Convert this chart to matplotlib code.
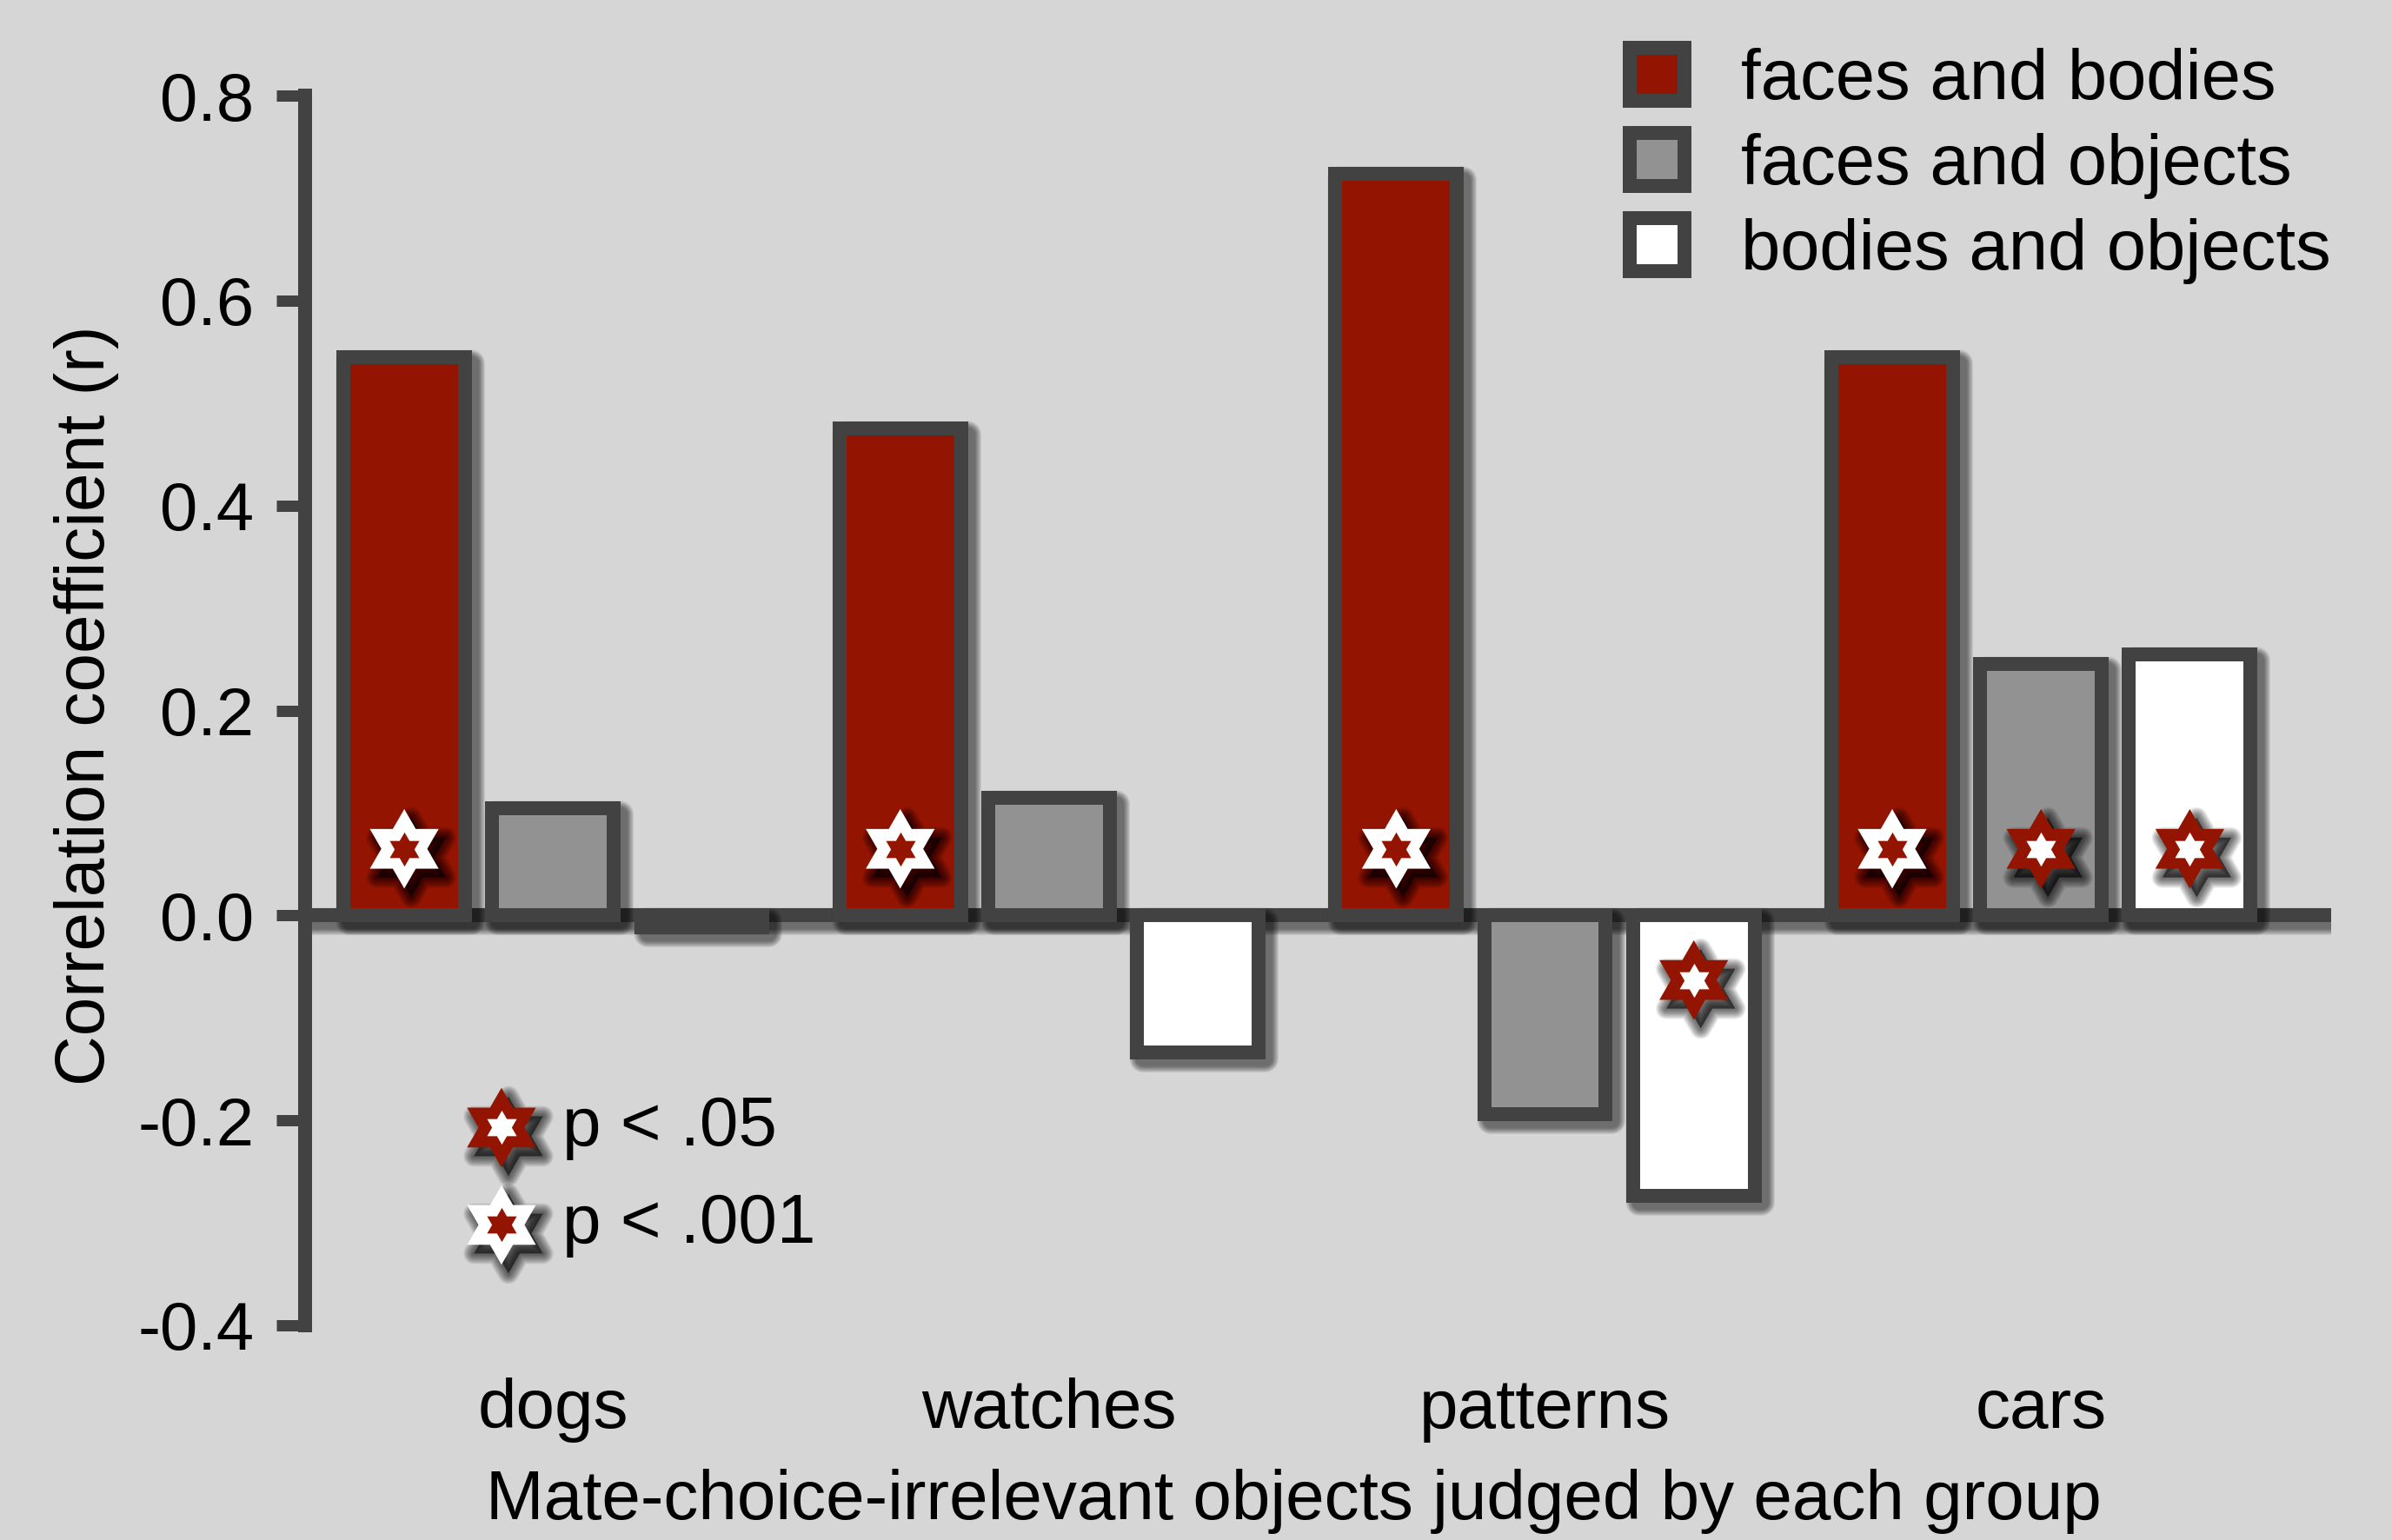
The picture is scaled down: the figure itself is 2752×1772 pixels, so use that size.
import matplotlib
matplotlib.use("Agg")
import matplotlib.pyplot as plt
import matplotlib.patheffects as pe
from matplotlib.path import Path
from matplotlib.patches import Patch
import numpy as np

# ---------------- data ----------------
categories = ["dogs", "watches", "patterns", "cars"]
series_names = ["faces and bodies", "faces and objects", "bodies and objects"]
faces_bodies = [0.545, 0.475, 0.724, 0.545]
faces_objects = [0.105, 0.115, -0.194, 0.245]
bodies_objects = [-0.012, -0.134, -0.274, 0.255]
# significance per bar: "001" -> p < .001, "05" -> p < .05, None -> n.s.
sig_faces_bodies = ["001", "001", "001", "001"]
sig_faces_objects = [None, None, None, "05"]
sig_bodies_objects = [None, None, "05", "05"]
yticks = [-0.4, -0.2, 0.0, 0.2, 0.4, 0.6, 0.8]
sig_labels = ["p < .05", "p < .001"]

# ---------------- style ----------------
BG = "#d6d6d6"
RED = "#931400"
GRAY = "#929292"
WHITE = "#ffffff"
EDGE = "#424242"
FONT = "Liberation Sans"
FS = 28
FS_LAB = 28.8
FS_LEG = 29.3
DPI = 200
PX = 72.0 / DPI  # points per pixel

plt.rcParams["font.family"] = [FONT, "DejaVu Sans"]
plt.rcParams["axes.unicode_minus"] = False


class SoftShadow(pe.AbstractPathEffect):
    """Blurred drop shadow built from stacked translucent strokes."""

    def __init__(self, offset=(2.5, -2.5), blur=4.0, alpha=0.45, n=10,
                 color=(0, 0, 0), fill=True):
        super().__init__(offset)
        self.blur = blur
        self.alpha = alpha
        self.n = n
        self.color = color
        self.fill = fill

    def draw_path(self, renderer, gc, tpath, affine, rgbFace):
        base = gc.get_linewidth()
        a = 1 - (1 - self.alpha) ** (1.0 / self.n)
        tr = affine + self._offset_transform(renderer)
        for i in range(self.n):
            gc0 = renderer.new_gc()
            gc0.copy_properties(gc)
            w = base + 2 * self.blur * (1 - i / self.n)
            gc0.set_linewidth(w)
            gc0.set_foreground(self.color)
            gc0.set_alpha(a)
            gc0.set_joinstyle("round")
            renderer.draw_path(gc0, tpath, tr, self.color if self.fill else None)
            gc0.restore()


bar_shadow = [SoftShadow(offset=(7 * PX, -7 * PX), blur=8 * PX, alpha=0.45, n=14), pe.Normal()]
star_shadow = [SoftShadow(offset=(8 * PX, -10 * PX), blur=11 * PX, alpha=0.5, n=18), pe.Normal()]

hexagram = Path.unit_regular_star(6, 1 / np.sqrt(3))

fig = plt.figure(figsize=(2752 / DPI, 1772 / DPI), dpi=DPI, facecolor=BG)
ax = fig.add_axes([351 / 2752, 1 - 1525 / 1772, (2682 - 351) / 2752, (1525 - 110) / 1772])
ax.set_facecolor("none")

x = np.arange(len(categories))
offsets = [-0.3, 0.0, 0.3]
width = 0.245
edge_lw = 16 * PX
values = [faces_bodies, faces_objects, bodies_objects]
colors = [RED, GRAY, WHITE]
sigs = [sig_faces_bodies, sig_faces_objects, sig_bodies_objects]

# zero line
zl = ax.axhline(0, color=EDGE, lw=edge_lw, zorder=1.5)
zl.set_path_effects(bar_shadow)

for vals, col, off in zip(values, colors, offsets):
    bars = ax.bar(x + off, vals, width=width, color=col, edgecolor=EDGE,
                  linewidth=edge_lw, zorder=2)
    for b in bars:
        b.set_path_effects(bar_shadow)
        b.set_joinstyle("miter")

# significance stars
star_ms = 91.5 * PX
inner_ms = star_ms * 0.43
for vals, sig, off in zip(values, sigs, offsets):
    for xi, v, s in zip(x, vals, sig):
        if s is None:
            continue
        ys = 0.065 if v > 0 else -0.063
        outer_c, inner_c = (WHITE, RED) if s == "001" else (RED, WHITE)
        ln, = ax.plot([xi + off], [ys], marker=hexagram, ms=star_ms, mfc=outer_c,
                      mec="none", ls="none", zorder=4)
        ln.set_path_effects(star_shadow)
        ax.plot([xi + off], [ys], marker=hexagram, ms=inner_ms, mfc=inner_c,
                mec="none", ls="none", zorder=5)

# significance key
key_x = -0.104
key_y = [-0.207, -0.302]
key_cols = [(RED, WHITE), (WHITE, RED)]
for ky, (oc, ic), lab in zip(key_y, key_cols, sig_labels):
    ln, = ax.plot([key_x], [ky], marker=hexagram, ms=star_ms, mfc=oc, mec="none",
                  ls="none", zorder=4, clip_on=False)
    ln.set_path_effects(star_shadow)
    ax.plot([key_x], [ky], marker=hexagram, ms=inner_ms, mfc=ic, mec="none",
            ls="none", zorder=5, clip_on=False)
    ax.text(0.019, ky + 0.0, lab, fontsize=FS_LAB, color="black", va="center",
            ha="left", zorder=5)

# axes
ax.set_xlim(-0.5, 3.585)
ax.set_ylim(-0.4, 0.8)
for s in ["top", "right", "bottom"]:
    ax.spines[s].set_visible(False)
sp = ax.spines["left"]
sp.set_color(EDGE)
sp.set_linewidth(edge_lw)
sp.set_capstyle("projecting")
sp.set_zorder(3)
ax.set_yticks(yticks, [f"{t:.1f}" for t in yticks])
ax.tick_params(axis="y", length=33 * PX, width=13 * PX, color=EDGE,
               pad=26 * PX, labelsize=FS, labelcolor="black")
ax.set_xticks(x, categories)
ax.tick_params(axis="x", length=0, pad=60 * PX, labelsize=FS_LAB, labelcolor="black")

ax.set_xlabel("Mate-choice-irrelevant objects judged by each group", fontsize=FS_LAB)
ax.xaxis.label.set_va("baseline")
ax.xaxis.set_label_coords((1488 - 351) / (2682 - 351), -(1748 - 1525) / 1415)
ax.set_ylabel("Correlation coefficient (r)", fontsize=FS_LAB)
ax.yaxis.set_label_coords(-(351 - 137) / (2682 - 351), (1525 - 812) / 1415)

# legend
handles = [Patch(facecolor=c, edgecolor=EDGE, linewidth=edge_lw) for c in colors]
leg = fig.legend(handles, series_names, loc="upper left",
                 bbox_to_anchor=(1875 / 2752, 1 - 55 / 1772), frameon=False,
                 fontsize=FS_LEG, handlelength=0.77, handleheight=0.77,
                 handletextpad=0.8, labelspacing=0.27, borderpad=0,
                 borderaxespad=0)
for h in leg.legend_handles:
    h.set_joinstyle("miter")

fig.savefig("out.png", dpi=DPI, facecolor=BG)
